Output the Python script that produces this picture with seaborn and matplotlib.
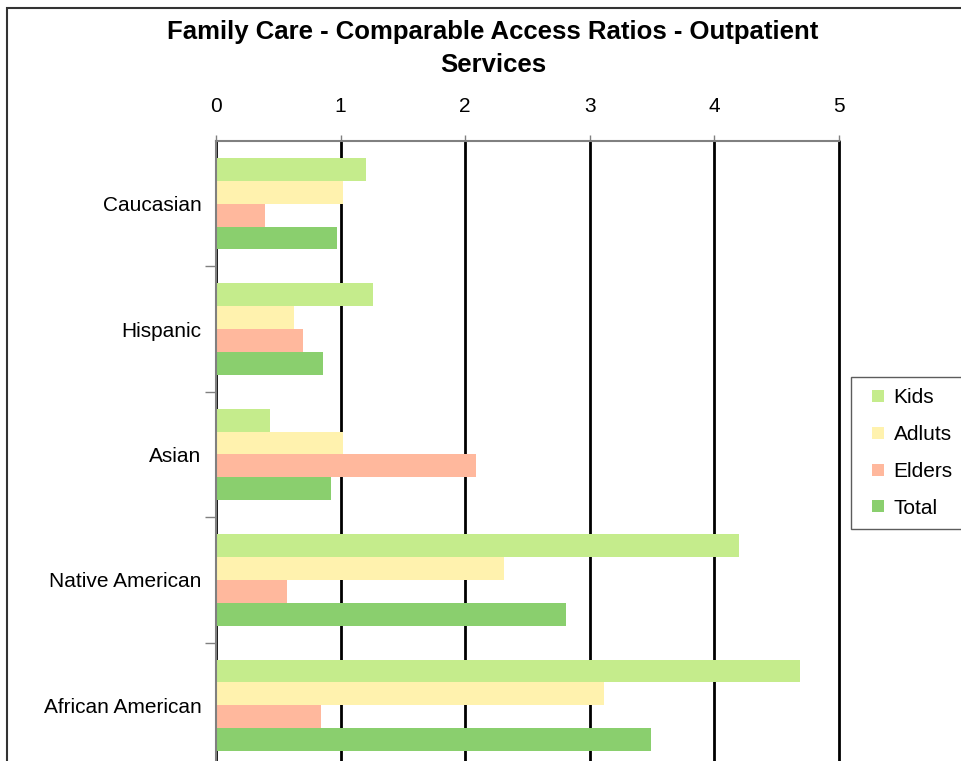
import matplotlib
matplotlib.use("Agg")
import matplotlib.pyplot as plt
import seaborn as sns
import pandas as pd
import numpy as np
from matplotlib.patches import Rectangle
from matplotlib.lines import Line2D

categories = ["Caucasian", "Hispanic", "Asian", "Native American", "African American"]
kids = [1.20, 1.26, 0.43, 4.20, 4.69]
adults = [1.02, 0.63, 1.02, 2.31, 3.11]
elders = [0.39, 0.70, 2.09, 0.57, 0.84]
total = [0.97, 0.86, 0.92, 2.81, 3.49]
series_names = ["Kids", "Adluts", "Elders", "Total"]
colors = ["#C5EC8C", "#FFF2AE", "#FFB89D", "#8ACF6E"]
xticks = [0, 1, 2, 3, 4, 5]
title = "Family Care - Comparable Access Ratios - Outpatient\nServices"

rows = []
for name, vals in zip(series_names, [kids, adults, elders, total]):
    for c, v in zip(categories, vals):
        rows.append({"Group": c, "Series": name, "Value": v})
df = pd.DataFrame(rows)

sns.set_style("white")
plt.rcParams["font.family"] = ["Liberation Sans", "DejaVu Sans"]
plt.rcParams["text.color"] = "black"
plt.rcParams["xtick.color"] = "black"
plt.rcParams["ytick.color"] = "black"

W, H = 962, 761
fig = plt.figure(figsize=(W / 100, H / 100), dpi=100)
ax = fig.add_axes([216 / W, (H - 768) / H, (839 - 216) / W, (768 - 141) / H])

sns.barplot(data=df, y="Group", x="Value", hue="Series", order=categories,
            hue_order=series_names, palette=colors, width=0.73, ax=ax,
            orient="h", saturation=1, legend=False, errorbar=None, linewidth=0)

ax.set_xlim(0, 5)
ax.set_ylim(len(categories) - 0.5, -0.5)
ax.set_xticks(xticks)
ax.set_xticklabels([str(t) for t in xticks])
ax.xaxis.tick_top()
ax.tick_params(axis="x", top=True, bottom=False, length=4, width=1, color="#808080",
               pad=14, labelsize=15, labelcolor="black")
ax.tick_params(axis="y", left=False, labelsize=15, pad=7, labelcolor="black")
ax.set_yticks(np.arange(len(categories)), minor=False)
ax.set_yticks(np.arange(len(categories) - 1) + 0.5, minor=True)
ax.tick_params(axis="y", which="minor", left=True, length=8, width=1, color="#808080")
ax.set_xlabel("")
ax.set_ylabel("")

ax.grid(True, axis="x", color="black", linewidth=2)
for gl in ax.get_xgridlines():
    gl.set_clip_on(False)
ax.set_axisbelow(True)
for s in ["right", "bottom"]:
    ax.spines[s].set_visible(False)
for s in ["left", "top"]:
    ax.spines[s].set_color("#808080")
    ax.spines[s].set_linewidth(1.5)

fig.text(493 / W, 1 - 48.5 / H, title, ha="center", va="center", fontsize=18.5,
         fontweight="bold", linespacing=1.45, color="black")

handles = [Line2D([], [], marker="s", linestyle="none", markerfacecolor=c,
                  markeredgewidth=0, markersize=8.5) for c in colors]
leg = fig.legend(handles, series_names, loc="upper left",
                 bbox_to_anchor=(851 / W, 1 - 377 / H), fontsize=15,
                 frameon=True, fancybox=False, edgecolor="#333333",
                 handlelength=1.5, labelspacing=0.85,
                 borderpad=0.55, handletextpad=0.0, borderaxespad=0)
leg.get_frame().set_linewidth(1)
for t in leg.get_texts():
    t.set_color("black")

fig.patches.append(Rectangle((7 / W, -0.1), 2.0, 1 - 8 / H + 0.1, transform=fig.transFigure,
                             fill=False, edgecolor="#333333", linewidth=1.5, zorder=-1))

fig.savefig("out.png", dpi=100)
